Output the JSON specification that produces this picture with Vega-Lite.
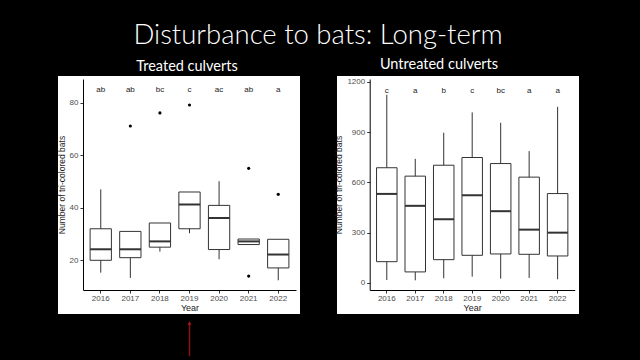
{
  "$schema": "https://vega.github.io/schema/vega-lite/v6.json",
  "background": "black",
  "padding": {"left": 57, "right": 65, "top": 22, "bottom": 5},
  "title": {"text": "Disturbance to bats: Long-term", "color": "white", "font": "Lato", "fontSize": 27.5, "fontWeight": 300, "anchor": "middle", "baseline": "alphabetic", "offset": -15},
  "config": {"view": {"stroke": null}},
  "datasets": {
    "stats": [
      {"group": "Treated", "year": "2016", "lower": 15.3, "q1": 20, "median": 24.2, "q3": 32, "upper": 47, "letter": "ab"},
      {"group": "Treated", "year": "2017", "lower": 13.3, "q1": 21, "median": 24.2, "q3": 31, "upper": 31, "letter": "ab"},
      {"group": "Treated", "year": "2018", "lower": 23.3, "q1": 25, "median": 27.2, "q3": 34.2, "upper": 34.2, "letter": "bc"},
      {"group": "Treated", "year": "2019", "lower": 30.3, "q1": 32, "median": 41.2, "q3": 46, "upper": 46, "letter": "c"},
      {"group": "Treated", "year": "2020", "lower": 20.4, "q1": 24.1, "median": 36.1, "q3": 40.9, "upper": 50.1, "letter": "ac"},
      {"group": "Treated", "year": "2021", "lower": 26, "q1": 26, "median": 27.2, "q3": 28.1, "upper": 28.1, "letter": "ab"},
      {"group": "Treated", "year": "2022", "lower": 12.4, "q1": 17.1, "median": 22.2, "q3": 28, "upper": 28, "letter": "a"},
      {"group": "Untreated", "year": "2016", "lower": 18, "q1": 127, "median": 531, "q3": 687, "upper": 1122, "letter": "c"},
      {"group": "Untreated", "year": "2017", "lower": 16, "q1": 66, "median": 460, "q3": 637, "upper": 740, "letter": "a"},
      {"group": "Untreated", "year": "2018", "lower": 28, "q1": 139, "median": 380, "q3": 702, "upper": 896, "letter": "b"},
      {"group": "Untreated", "year": "2019", "lower": 38, "q1": 165, "median": 523, "q3": 748, "upper": 1017, "letter": "c"},
      {"group": "Untreated", "year": "2020", "lower": 26, "q1": 173, "median": 428, "q3": 712, "upper": 955, "letter": "bc"},
      {"group": "Untreated", "year": "2021", "lower": 30, "q1": 171, "median": 318, "q3": 631, "upper": 786, "letter": "a"},
      {"group": "Untreated", "year": "2022", "lower": 22, "q1": 161, "median": 300, "q3": 533, "upper": 1050, "letter": "a"}
    ],
    "outliers": [
      {"group": "Treated", "year": "2017", "value": 71.1},
      {"group": "Treated", "year": "2018", "value": 76.1},
      {"group": "Treated", "year": "2019", "value": 79.1},
      {"group": "Treated", "year": "2021", "value": 55},
      {"group": "Treated", "year": "2021", "value": 14},
      {"group": "Treated", "year": "2022", "value": 45.1}
    ]
  },
  "hconcat": [
    {
      "width": 242,
      "height": 238,
      "title": {"text": "Treated culverts", "color": "white", "font": "Lato", "fontSize": 14.5, "fontWeight": "normal", "anchor": "middle", "frame": "group", "dx": 8, "offset": -9, "baseline": "alphabetic"},
      "view": {"fill": "white", "stroke": null},
      "encoding": {
        "x": {"field": "year", "type": "ordinal",
          "scale": {"type": "band", "domain": ["2016","2017","2018","2019","2020","2021","2022"], "range": [25, 238], "paddingInner": 0, "paddingOuter": 0.1},
          "axis": {"title": "Year", "orient": "bottom", "offset": -24, "labelAngle": 0, "grid": false, "domainColor": "black", "tickColor": "#333333", "tickSize": 3, "labelPadding": 1.5, "labelColor": "#4d4d4d", "labelFont": "Liberation Sans", "labelFontSize": 8, "titleFont": "Liberation Sans", "titleFontSize": 9, "titleFontWeight": "normal", "titleColor": "#222222", "titlePadding": 1}}
      },
      "layer": [
        {
          "data": {"name": "stats"},
          "transform": [{"filter": "datum.group === 'Treated'"}],
          "mark": {"type": "rule", "color": "#333333", "strokeWidth": 1},
          "encoding": {
            "y": {"field": "lower", "type": "quantitative",
              "scale": {"domain": [8.7, 89], "range": [214, 3], "nice": false, "zero": false},
              "axis": {"title": "Number of tri-colored bats", "values": [20, 40, 60, 80], "offset": -25, "grid": false, "domainColor": "black", "tickColor": "#333333", "tickSize": 3, "labelPadding": 2, "labelColor": "#4d4d4d", "labelFont": "Liberation Sans", "labelFontSize": 8, "titleFont": "Liberation Sans", "titleFontSize": 8.5, "titleFontWeight": "normal", "titleColor": "#222222", "titlePadding": 3}},
            "y2": {"field": "upper"}
          }
        },
        {
          "data": {"name": "stats"},
          "transform": [{"filter": "datum.group === 'Treated'"}],
          "mark": {"type": "bar", "fill": "white", "stroke": "#333333", "strokeWidth": 1, "width": {"band": 0.72}},
          "encoding": {
            "y": {"field": "q1", "type": "quantitative"},
            "y2": {"field": "q3"}
          }
        },
        {
          "data": {"name": "stats"},
          "transform": [{"filter": "datum.group === 'Treated'"}],
          "mark": {"type": "tick", "color": "#333333", "thickness": 2, "size": 21.3, "opacity": 1},
          "encoding": {
            "y": {"field": "median", "type": "quantitative"}
          }
        },
        {
          "data": {"name": "outliers"},
          "transform": [{"filter": "datum.group === 'Treated'"}],
          "mark": {"type": "point", "filled": true, "color": "black", "size": 10, "opacity": 1},
          "encoding": {
            "y": {"field": "value", "type": "quantitative"}
          }
        },
        {
          "data": {"name": "stats"},
          "transform": [{"filter": "datum.group === 'Treated'"}],
          "mark": {"type": "text", "font": "Liberation Sans", "fontSize": 8, "color": "#222222", "baseline": "middle"},
          "encoding": {
            "y": {"datum": 84.8},
            "text": {"field": "letter"}
          }
        },
        {
          "data": {"values": [{"label": "arrow"}]},
          "mark": {"type": "rule", "color": "#a31515", "strokeWidth": 1.5, "opacity": 0.85},
          "encoding": {
            "x": {"datum": "2019"},
            "y": {"datum": -3.6},
            "y2": {"datum": -16.5}
          }
        },
        {
          "data": {"values": [{"label": "arrowhead"}]},
          "mark": {"type": "point", "shape": "triangle-up", "filled": true, "color": "#c01818", "size": 14, "opacity": 0.9},
          "encoding": {
            "x": {"datum": "2019"},
            "y": {"datum": -3.9}
          }
        }
      ]
    },
    {
      "width": 242,
      "height": 238,
      "title": {"text": "Untreated culverts", "color": "white", "font": "Lato", "fontSize": 14.5, "fontWeight": "normal", "anchor": "middle", "frame": "group", "dx": -19, "offset": -7, "baseline": "alphabetic"},
      "view": {"fill": "white", "stroke": null},
      "encoding": {
        "x": {"field": "year", "type": "ordinal",
          "scale": {"type": "band", "domain": ["2016","2017","2018","2019","2020","2021","2022"], "range": [32.7, 237.7], "paddingInner": 0, "paddingOuter": 0.1},
          "axis": {"title": "Year", "orient": "bottom", "offset": -24, "labelAngle": 0, "grid": false, "domainColor": "black", "tickColor": "#333333", "tickSize": 3, "labelPadding": 1.5, "labelColor": "#4d4d4d", "labelFont": "Liberation Sans", "labelFontSize": 8, "titleFont": "Liberation Sans", "titleFontSize": 9, "titleFontWeight": "normal", "titleColor": "#222222", "titlePadding": 1}}
      },
      "layer": [
        {
          "data": {"name": "stats"},
          "transform": [{"filter": "datum.group === 'Untreated'"}],
          "mark": {"type": "rule", "color": "#333333", "strokeWidth": 1},
          "encoding": {
            "y": {"field": "lower", "type": "quantitative",
              "scale": {"domain": [-41.8, 1216], "range": [214, 3], "nice": false, "zero": false},
              "axis": {"title": "Number of tri-colored bats", "values": [0, 300, 600, 900, 1200], "format": "d", "offset": -32.7, "grid": false, "domainColor": "black", "tickColor": "#333333", "tickSize": 3, "labelPadding": 2, "labelColor": "#4d4d4d", "labelFont": "Liberation Sans", "labelFontSize": 8, "titleFont": "Liberation Sans", "titleFontSize": 8.5, "titleFontWeight": "normal", "titleColor": "#222222", "titlePadding": 3}},
            "y2": {"field": "upper"}
          }
        },
        {
          "data": {"name": "stats"},
          "transform": [{"filter": "datum.group === 'Untreated'"}],
          "mark": {"type": "bar", "fill": "white", "stroke": "#333333", "strokeWidth": 1, "width": {"band": 0.72}},
          "encoding": {
            "y": {"field": "q1", "type": "quantitative"},
            "y2": {"field": "q3"}
          }
        },
        {
          "data": {"name": "stats"},
          "transform": [{"filter": "datum.group === 'Untreated'"}],
          "mark": {"type": "tick", "color": "#333333", "thickness": 2, "size": 20.5, "opacity": 1},
          "encoding": {
            "y": {"field": "median", "type": "quantitative"}
          }
        },
        {
          "data": {"name": "stats"},
          "transform": [{"filter": "datum.group === 'Untreated'"}],
          "mark": {"type": "text", "font": "Liberation Sans", "fontSize": 8, "color": "#222222", "baseline": "middle"},
          "encoding": {
            "y": {"datum": 1146},
            "text": {"field": "letter"}
          }
        }
      ]
    }
  ],
  "spacing": 34
}
